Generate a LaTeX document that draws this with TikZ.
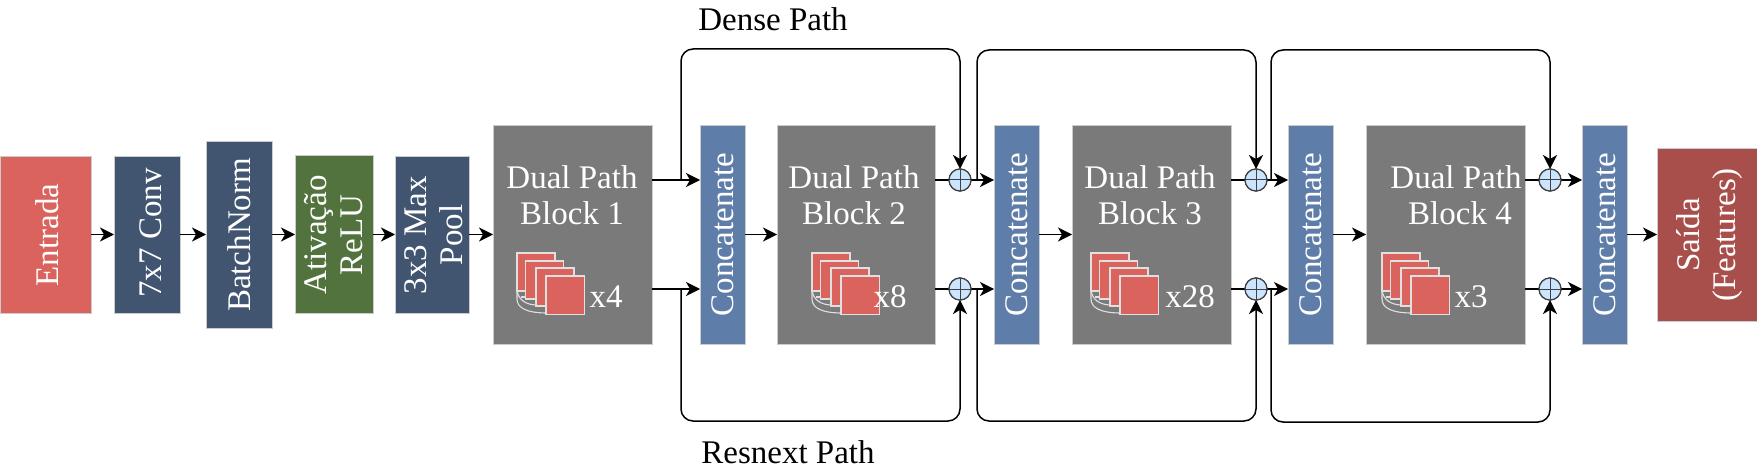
\documentclass[tikz,border=0pt]{standalone}
\usepackage{fontspec}
\setmainfont{Liberation Serif}
\usetikzlibrary{arrows.meta}
\definecolor{cred}{HTML}{DA635D}
\definecolor{cnavy}{HTML}{415571}
\definecolor{cgreen}{HTML}{53733E}
\definecolor{cgray}{HTML}{7A7A7A}
\definecolor{cblue}{HTML}{5F7DA9}
\definecolor{cout}{HTML}{A94F4B}
\definecolor{ccirc}{HTML}{CCE5FF}
\newcommand{\bx}[7]{\node[box,fill=#6,minimum width=#4-#2,minimum height=#5-#3,anchor=north west,#7] (#1) at (#2,#3) {};}
\newcommand{\stackicon}[2]{%
\begin{scope}[shift={(#1,#2)}]
\draw[iconl] (0,30) -- (0,46) .. controls (0,55) and (10,60) .. (30,60);
\draw[iconl] (0,37) .. controls (1,46) and (8,52) .. (20,52) -- (30,52);
\draw[iconl] (0,37) -- (9,37);
\draw[iconl] (4,44) -- (20,44);
\node[sq] at (0,0) {};
\node[sq] at (8.7,8) {};
\node[sq] at (19,15) {};
\node[sq,minimum size=38.5pt] at (29,23) {};
\end{scope}}
\tikzset{
x=1pt,y=-1pt,
box/.style={draw=white!80!black,line width=.5pt,inner sep=0pt,outer sep=0pt},
sq/.style={draw=white!88!black,fill=cred,line width=1.1pt,anchor=north west,minimum size=38pt,inner sep=0pt,outer sep=0pt},
iconl/.style={draw=white!88!black,line width=1.1pt},
lab/.style={text=white,font=\fontsize{33}{36}\selectfont,align=center},
rlab/.style={lab,rotate=90},
blab/.style={text=black,font=\fontsize{33}{36}\selectfont},
arr/.style={draw=black,line width=1.5pt,-{Stealth[length=14pt,width=14pt,inset=4pt]}},
lin/.style={draw=black,line width=1.5pt},
rc/.style={rounded corners=12pt},
oplus/.style={circle,draw=black!75,line width=1.2pt,fill=ccirc,minimum size=22pt,inner sep=0pt,outer sep=0pt,path picture={\draw[black!75,line width=1pt] (path picture bounding box.north) -- (path picture bounding box.south) (path picture bounding box.west) -- (path picture bounding box.east);}},
}
\begin{document}
\begin{tikzpicture}
\useasboundingbox (0,0) rectangle (1757,468);
\bx{inp}{0}{156}{91}{313}{cred}{}
\bx{conv}{114}{156}{180}{313}{cnavy}{}
\bx{bn}{206}{141}{272}{328}{cnavy}{}
\bx{act}{295}{155}{373}{313}{cgreen}{}
\bx{pool}{395}{156}{469}{313}{cnavy}{}
\bx{b1}{493}{125}{652}{344}{cgray}{}
\bx{c1}{700}{125}{745}{344}{cblue}{}
\bx{b2}{777}{125}{935}{344}{cgray}{}
\bx{c2}{994}{125}{1039}{344}{cblue}{}
\bx{b3}{1072}{125}{1231}{344}{cgray}{}
\bx{c3}{1288}{125}{1333}{344}{cblue}{}
\bx{b4}{1366}{125}{1525}{344}{cgray}{}
\bx{c4}{1582}{125}{1627}{344}{cblue}{}
\bx{out}{1657}{148}{1757}{321}{cout}{}
\node[rlab] (tinp) at (47,235) {Entrada};
\node[rlab] (tconv) at (151,233) {7x7 Conv};
\node[rlab] (tbn) at (239,235) {BatchNorm};
\node[rlab] (tact) at (334,235) {Ativação\\ReLU};
\node[rlab] (tpool) at (434,235) {3x3 Max\\Pool};
\node[rlab] (tc1) at (722.5,234.5) {Concatenate};
\node[rlab] (tc2) at (1016.5,234.5) {Concatenate};
\node[rlab] (tc3) at (1310.5,234.5) {Concatenate};
\node[rlab] (tc4) at (1604.5,234.5) {Concatenate};
\node[rlab] (tout) at (1710,235) {Saída\\(Features)};
\node[lab] (tb1) at (572,195) {Dual Path\\Block 1};
\node[lab] (tb2) at (854,195) {Dual Path\\Block 2};
\node[lab] (tb3) at (1150,195) {Dual Path\\Block 3};
\node[lab] (tb4) at (1456,195) {Dual Path\\\hspace*{8pt}Block 4};
\stackicon{517}{253}\stackicon{812}{253}\stackicon{1091}{253}\stackicon{1382}{253}
\node[lab] (x1) at (606,297) {x4};
\node[lab] (x2) at (890,297) {x8};
\node[lab] (x3) at (1190,297) {x28};
\node[lab] (x4) at (1471,297) {x3};
\node[blab] (dense) at (773,19) {Dense Path};
\node[blab] (res) at (788,452) {Resnext Path};
\node[oplus] (pa) at (960,180) {};
\node[oplus] (pb) at (960,289) {};
\node[oplus] (pc) at (1256,180) {};
\node[oplus] (pd) at (1256,289) {};
\node[oplus] (pe) at (1550,180) {};
\node[oplus] (pf) at (1550,289) {};
\coordinate (j1) at (681,180);\coordinate (j2) at (681,289);
\coordinate (j3) at (977,180);\coordinate (j4) at (977,289);
\coordinate (j5) at (1271,180);\coordinate (j6) at (1271,289);
\draw[arr] (inp.east) -- (conv.west);
\draw[arr] (conv.east) -- (conv.east-|bn.west);
\draw[arr] (bn.east|-conv.east) -- (conv.east-|act.west);
\draw[arr] (act.east|-conv.east) -- (conv.east-|pool.west);
\draw[arr] (pool.east) -- (pool.east-|b1.west);
\draw[arr] (b1.east|-j1) -- (c1.west|-j1);
\draw[arr] (b1.east|-j2) -- (c1.west|-j2);
\draw[arr] (c1.east) -- (b2.west);
\draw[lin] (b2.east|-pa) -- (pa);
\draw[lin] (b2.east|-pb) -- (pb);
\draw[arr] (pa) -- (c2.west|-pa);
\draw[arr] (pb) -- (c2.west|-pb);
\draw[arr] (c2.east) -- (b3.west);
\draw[lin] (b3.east|-pc) -- (pc);
\draw[lin] (b3.east|-pd) -- (pd);
\draw[arr] (pc) -- (c3.west|-pc);
\draw[arr] (pd) -- (c3.west|-pd);
\draw[arr] (c3.east) -- (b4.west);
\draw[lin] (b4.east|-pe) -- (pe);
\draw[lin] (b4.east|-pf) -- (pf);
\draw[arr] (pe) -- (c4.west|-pe);
\draw[arr] (pf) -- (c4.west|-pf);
\draw[arr] (c4.east) -- (out.west|-c4.east);
\draw[arr,rc] (j1) -- (681,49) -- (960,49) -- (pa.north);
\draw[arr,rc] (j2) -- (681,421) -- (960,421) -- (pb.south);
\draw[arr,rc] (j3) -- (977,50) -- (1256,50) -- (pc.north);
\draw[arr,rc] (j4) -- (977,421) -- (1256,421) -- (pd.south);
\draw[arr,rc] (j5) -- (1271,50) -- (1550,50) -- (pe.north);
\draw[arr,rc] (j6) -- (1271,422) -- (1550,422) -- (pf.south);
\foreach \n in {pa,pb,pc,pd,pe,pf}{\node[oplus] at (\n) {};}
\end{tikzpicture}
\end{document}
